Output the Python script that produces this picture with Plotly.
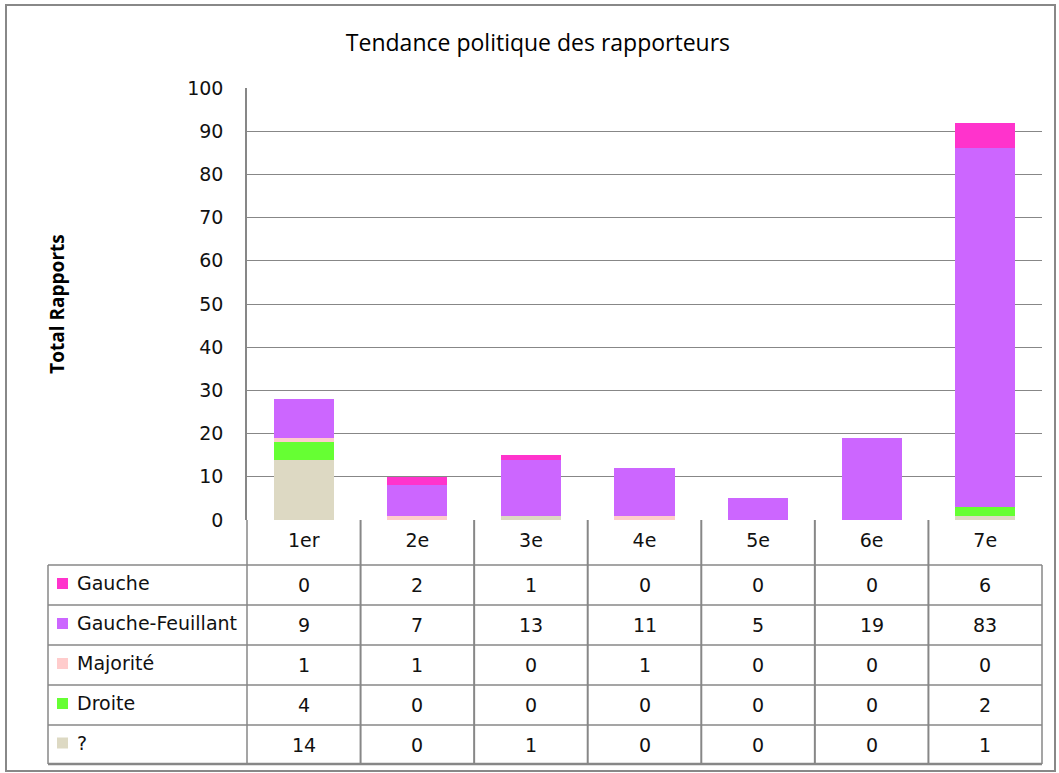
import plotly.graph_objects as go

categories = ["1er", "2e", "3e", "4e", "5e", "6e", "7e"]
series_names = ["Gauche", "Gauche-Feuillant", "Majorité", "Droite", "?"]
gauche = [0, 2, 1, 0, 0, 0, 6]
gauche_feuillant = [9, 7, 13, 11, 5, 19, 83]
majorite = [1, 1, 0, 1, 0, 0, 0]
droite = [4, 0, 0, 0, 0, 0, 2]
inconnu = [14, 0, 1, 0, 0, 0, 1]
y_ticks = [0, 10, 20, 30, 40, 50, 60, 70, 80, 90, 100]

series_values = [gauche, gauche_feuillant, majorite, droite, inconnu]
colors = ["#FF33CC", "#CC66FF", "#FFCCCC", "#66FF33", "#DDD9C3"]

W, H = 1059, 773
L, R, T, B = 247, 1042, 88, 520
PW, PH = R - L, B - T


def px(x):
    return (x - L) / PW


def py(y):
    return (B - y) / PH


fig = go.Figure()
# stack bottom-up: ?, Droite, Majorité, Gauche-Feuillant, Gauche
for name, vals, col in reversed(list(zip(series_names, series_values, colors))):
    fig.add_trace(go.Bar(x=categories, y=vals, name=name, marker_color=col,
                         marker_line_width=0, width=0.53))

grid = "#878787"
TXT = dict(family="DejaVu Sans", size=19, color="#111111")
fig.update_layout(
    width=W, height=H, barmode="stack", showlegend=False,
    plot_bgcolor="white", paper_bgcolor="white",
    margin=dict(l=L, r=W - R, t=T, b=H - B),
    title=dict(text="Tendance politique des rapporteurs", x=0.508, xanchor="center",
               y=1 - 43 / H, yanchor="middle",
               font=dict(family="Open Sans", size=23, color="black")),
    xaxis=dict(type="category", range=[-0.5, 6.5], showgrid=False, showline=False,
               ticks="", tickfont=TXT, ticklabelstandoff=7, fixedrange=True),
    yaxis=dict(range=[0, 100], tickvals=y_ticks, showgrid=True, gridcolor=grid, gridwidth=1.2,
               showline=True, linecolor=grid, linewidth=1.5, zeroline=False,
               ticks="inside", ticklen=3, tickcolor=grid,
               tickfont=TXT, ticklabelstandoff=18, fixedrange=True,
               title=dict(text="<b>Total Rapports</b>", standoff=118,
                          font=dict(family="Open Sans", size=19, color="black"))),
)

shapes = []
# outer border
shapes.append(dict(type="rect", xref="paper", yref="paper", x0=px(6), x1=px(1055),
                   y0=py(5), y1=py(771), line=dict(color="#888888", width=2)))
row_y = [565, 605, 645, 685, 725, 764]
for i, yy in enumerate(row_y):
    shapes.append(dict(type="line", xref="paper", yref="paper", x0=px(48), x1=px(1042),
                       y0=py(yy), y1=py(yy),
                       line=dict(color=grid, width=2.5 if i == len(row_y) - 1 else 1.5)))
# vertical table lines
shapes.append(dict(type="line", xref="paper", yref="paper", x0=px(48), x1=px(48),
                   y0=py(565), y1=py(764), line=dict(color=grid, width=1.5)))
shapes.append(dict(type="line", xref="paper", yref="paper", x0=px(247), x1=px(247),
                   y0=py(520), y1=py(764), line=dict(color=grid, width=1.5)))
shapes.append(dict(type="line", xref="paper", yref="paper", x0=px(1042), x1=px(1042),
                   y0=py(565), y1=py(764), line=dict(color=grid, width=1.5)))
for i in range(len(categories) - 1):
    shapes.append(dict(type="line", xref="x", yref="paper", x0=i + 0.5, x1=i + 0.5,
                       y0=py(520), y1=py(764), line=dict(color=grid, width=2)))

annotations = []
for r, (name, vals, col) in enumerate(zip(series_names, series_values, colors)):
    cy = (row_y[r] + row_y[r + 1]) / 2
    shapes.append(dict(type="rect", xref="paper", yref="paper", x0=px(57), x1=px(68),
                       y0=py(cy - 7), y1=py(cy + 4), fillcolor=col, line=dict(width=0)))
    annotations.append(dict(text=name, xref="paper", yref="paper", x=px(75), y=py(cy - 2),
                            xanchor="left", yanchor="middle", showarrow=False, font=TXT))
    for c, v in zip(categories, vals):
        annotations.append(dict(text=str(v), xref="x", yref="paper", x=c, y=py(cy),
                                xanchor="center", yanchor="middle", showarrow=False,
                                font=TXT))

fig.update_layout(shapes=shapes, annotations=annotations)
fig.write_html("out.html", config={"displayModeBar": False})

# remove the default page margin so the figure sits at the window's origin
with open("out.html", "r", encoding="utf-8") as f:
    html = f.read()
html = html.replace("<head>", "<head><style>html,body{margin:0;padding:0;overflow:hidden}</style>", 1)
with open("out.html", "w", encoding="utf-8") as f:
    f.write(html)
